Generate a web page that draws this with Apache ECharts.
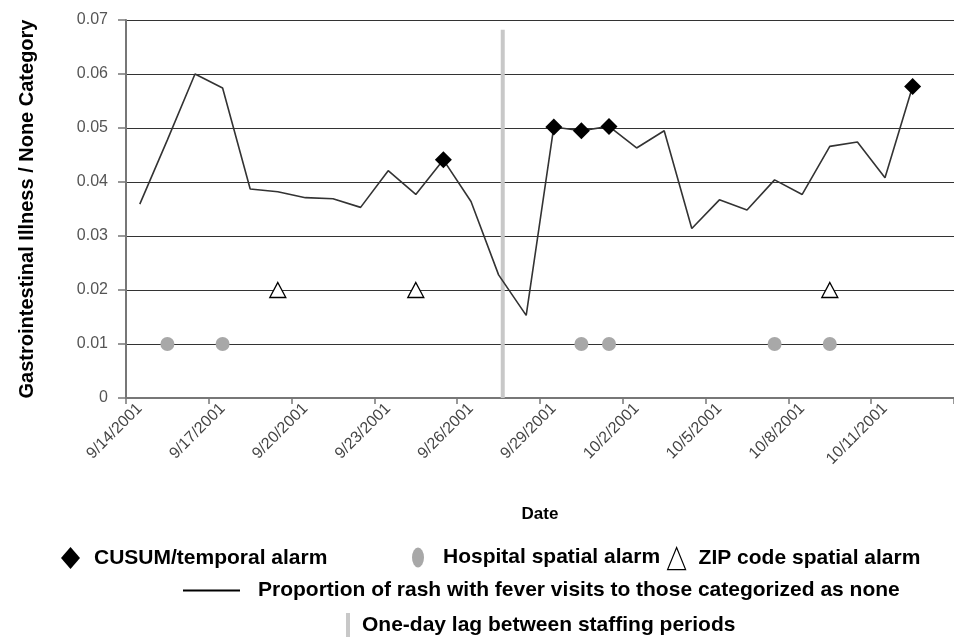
<!DOCTYPE html>
<html>
<head>
<meta charset="utf-8">
<script src="https://cdn.jsdelivr.net/npm/echarts@6/dist/echarts.min.js"></script>
<style>html,body{margin:0;padding:0;background:#fff}#c{width:954px;height:642px}</style>
</head>
<body>
<div id="c"></div>
<script>
const dates = ['9/14/2001','9/15/2001','9/16/2001','9/17/2001','9/18/2001','9/19/2001','9/20/2001','9/21/2001','9/22/2001','9/23/2001','9/24/2001','9/25/2001','9/26/2001','9/27/2001','9/28/2001','9/29/2001','9/30/2001','10/1/2001','10/2/2001','10/3/2001','10/4/2001','10/5/2001','10/6/2001','10/7/2001','10/8/2001','10/9/2001','10/10/2001','10/11/2001','10/12/2001','10/13/2001'];
const proportion = [0.0359,0.0478,0.0600,0.0574,0.0387,0.0382,0.0371,0.0369,0.0353,0.0421,0.0377,0.0441,0.0364,0.0228,0.0153,0.0502,0.0495,0.0503,0.0463,0.0495,0.0314,0.0367,0.0348,0.0404,0.0377,0.0466,0.0474,0.0408,0.0577,null];
const cusumDates = ['9/25/2001','9/29/2001','9/30/2001','10/1/2001','10/12/2001'];
const hospitalDates = ['9/15/2001','9/17/2001','9/30/2001','10/1/2001','10/7/2001','10/9/2001'];
const hospitalLevel = 0.01;
const zipDates = ['9/19/2001','9/24/2001','10/9/2001'];
const zipLevel = 0.02;
const lagPosition = 13.15;   // days after 9/14/2001
const lagTop = 0.0682;

const names = {
  line: 'Proportion of rash with fever visits to those categorized as none',
  cusum: 'CUSUM/temporal alarm',
  hosp: 'Hospital spatial alarm',
  zip: 'ZIP code spatial alarm',
  lag: 'One-day lag between staffing periods'
};
const FONT = 'Liberation Sans, Arial, sans-serif';
const cusumData = cusumDates.map(d => [d, proportion[dates.indexOf(d)]]);
const hospData = hospitalDates.map(d => [d, hospitalLevel]);
const zipData = zipDates.map(d => [d, zipLevel]);

const legendText = {fontFamily: FONT, fontSize: 21, fontWeight: 'bold', color: '#000'};
function lg(name, left, top, padLeft, extra) {
  return Object.assign({
    show: true, data: [name], left: left, top: top, orient: 'horizontal',
    selectedMode: false, padding: 0, itemGap: 0,
    textStyle: Object.assign({}, legendText, {padding: [0, 0, 0, padLeft]})
  }, extra || {});
}

const chart = echarts.init(document.getElementById('c'), null, {renderer: 'canvas'});
chart.setOption({
  animation: false,
  backgroundColor: '#fff',
  grid: {left: 126, top: 20, width: 840, height: 378, containLabel: false},
  xAxis: [{
    type: 'category', data: dates, boundaryGap: true,
    name: 'Date', nameLocation: 'middle', nameGap: 108,
    nameTextStyle: {fontFamily: FONT, fontSize: 17, fontWeight: 'bold', color: '#000'},
    axisLine: {lineStyle: {color: '#777', width: 2}},
    axisTick: {show: true, interval: 2, length: 6, lineStyle: {color: '#777', width: 1.5}},
    axisLabel: {interval: 2, rotate: 45, margin: 8, fontFamily: FONT, fontSize: 16, color: '#444'},
    splitLine: {show: false}
  }, {
    type: 'value', min: -0.5, max: 29.5, show: false
  }],
  yAxis: {
    type: 'value', min: 0, max: 0.07, interval: 0.01,
    name: 'Gastrointestinal Illness / None Category', nameLocation: 'middle', nameGap: 89,
    nameTextStyle: {fontFamily: FONT, fontSize: 20, fontWeight: 'bold', color: '#000'},
    axisLine: {show: true, onZero: false, lineStyle: {color: '#777', width: 2}},
    axisTick: {show: true, length: 8, lineStyle: {color: '#777', width: 1.5}},
    axisLabel: {margin: 18, fontFamily: FONT, fontSize: 16, color: '#555',
      formatter: v => (v === 0 ? '0' : v.toFixed(2))},
    splitLine: {show: true, lineStyle: {color: '#333', width: 1.2}}
  },
  legend: [
    lg(names.cusum, 61, 547, 9, {icon: 'diamond', itemWidth: 19, itemHeight: 22, itemStyle: {color: '#000', opacity: 1}}),
    lg(names.hosp, 412, 547, 14, {icon: 'path://M0,10 A6,10 0 1,0 12,10 A6,10 0 1,0 0,10 Z', symbolKeepAspect: false, itemWidth: 12, itemHeight: 20, itemStyle: {color: '#a8a8a8', opacity: 1}}),
    lg(names.zip, 667, 547, 8, {icon: 'triangle', itemWidth: 18, itemHeight: 22, itemStyle: {color: '#fff', borderColor: '#000', borderWidth: 1.2, opacity: 1}}),
    lg(names.line, 183, 580, 13, {icon: 'rect', itemWidth: 57, itemHeight: 2, itemStyle: {color: '#000', opacity: 1}}),
    lg(names.lag, 346, 613, 7, {icon: 'rect', itemWidth: 4, itemHeight: 24, itemStyle: {color: '#c8c8c8', opacity: 1}})
  ],
  series: [
    {
      name: names.lag, type: 'line', xAxisIndex: 1, z: 1,
      data: [[lagPosition, 0], [lagPosition, lagTop]],
      symbol: 'none', lineStyle: {color: '#c8c8c8', width: 4}, itemStyle: {color: '#c8c8c8'}
    },
    {
      name: names.line, type: 'line', data: proportion, z: 3,
      symbol: 'none', lineStyle: {color: '#333', width: 1.6}, itemStyle: {color: '#333'}
    },
    {
      name: names.cusum, type: 'scatter', data: cusumData, z: 5,
      symbol: 'diamond', symbolSize: [17, 17], itemStyle: {color: '#000', opacity: 1}
    },
    {
      name: names.hosp, type: 'scatter', data: hospData, z: 5,
      symbol: 'circle', symbolSize: 14, itemStyle: {color: '#a8a8a8', opacity: 1}
    },
    {
      name: names.zip, type: 'scatter', data: zipData, z: 5,
      symbol: 'triangle', symbolSize: [16, 15],
      itemStyle: {color: '#fff', borderColor: '#000', borderWidth: 1.3, opacity: 1}
    }
  ]
});
</script>
</body>
</html>
